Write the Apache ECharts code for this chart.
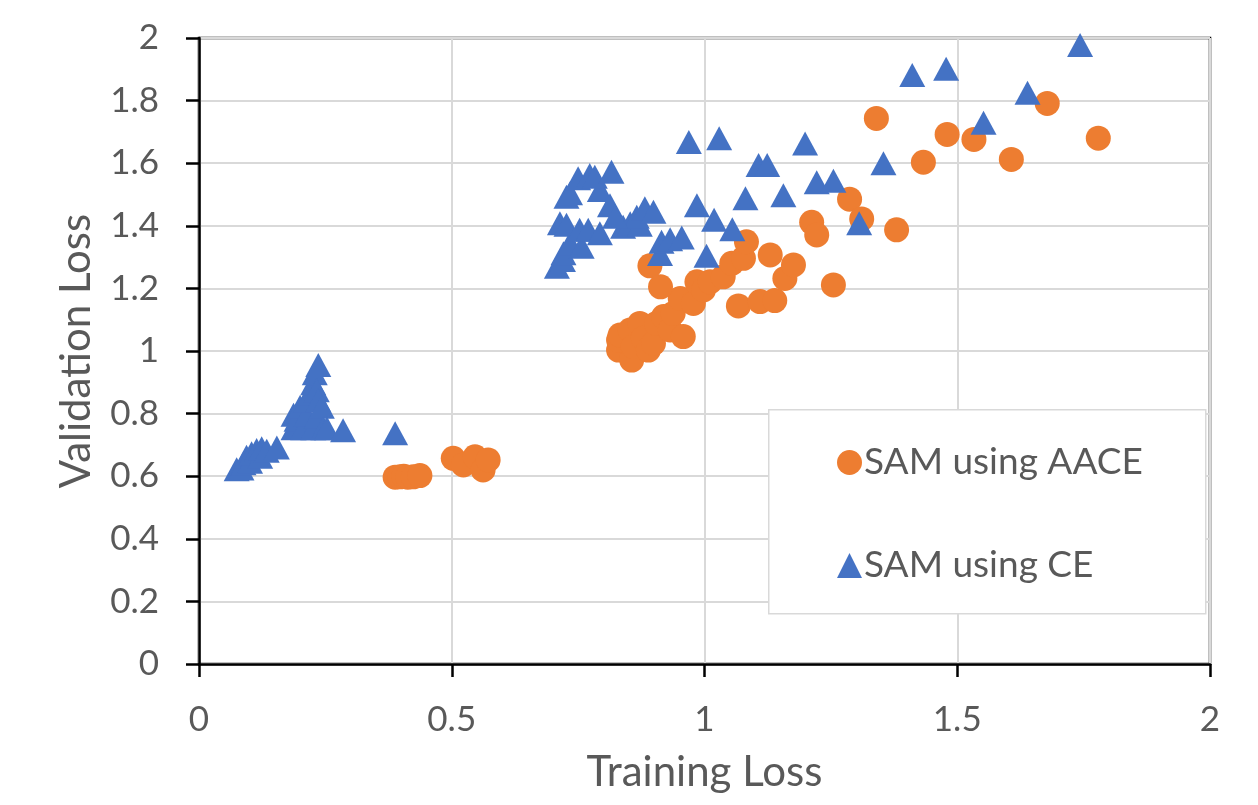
<!DOCTYPE html>
<html><head><meta charset="utf-8">
<script src="https://cdn.jsdelivr.net/npm/echarts@6/dist/echarts.min.js"></script>
<style>html,body{margin:0;padding:0;background:#fff}#c{width:1258px;height:805px}</style>
</head><body><div id="c"></div>
<script>
const seriesNames = ['SAM using AACE', 'SAM using CE'];
const xTicks = [0, 0.5, 1, 1.5, 2];
const yTicks = [0, 0.2, 0.4, 0.6, 0.8, 1, 1.2, 1.4, 1.6, 1.8, 2];

const aaceX = [0.388,0.398,0.405,0.413,0.424,0.437,0.503,0.523,0.546,0.562,0.572,
  0.830,0.830,0.833,0.853,0.856,0.859,0.872,0.879,0.889,0.899,0.905,0.919,0.932,0.938,0.952,0.958,0.978,0.985,0.998,1.011,1.037,1.054,1.077,1.083,0.892,0.913,1.067,1.110,1.139,1.130,1.159,1.176,1.212,1.222,1.255,
  1.287,1.311,1.340,1.380,1.433,1.480,1.533,1.607,1.678,1.779];
const aaceY = [0.597,0.598,0.600,0.597,0.598,0.602,0.657,0.636,0.662,0.620,0.652,
  1.003,1.035,1.051,1.067,0.971,1.014,1.088,1.041,1.003,1.024,1.088,1.110,1.067,1.120,1.168,1.046,1.152,1.221,1.195,1.221,1.237,1.280,1.296,1.349,1.272,1.205,1.144,1.158,1.161,1.307,1.232,1.275,1.411,1.371,1.211,
  1.485,1.422,1.743,1.387,1.603,1.692,1.676,1.612,1.791,1.680];

const ceX = [0.0745,0.084,0.088,0.094,0.101,0.104,0.114,0.121,0.124,0.134,0.154,
  0.187,0.187,0.193,0.200,0.206,0.213,0.213,0.220,0.226,0.226,0.229,0.233,0.233,0.236,0.236,0.243,0.246,0.253,0.285,0.388,
  0.708,0.720,0.721,0.734,0.757,0.714,0.727,0.753,0.770,0.793,0.839,0.853,0.872,0.866,0.882,0.899,0.813,0.823,0.793,0.727,0.734,0.750,0.773,0.783,0.816,
  0.912,0.915,0.932,0.955,1.004,0.985,1.019,1.055,1.081,1.156,0.969,1.029,1.107,1.124,
  1.199,1.222,1.255,1.306,1.354,1.411,1.478,1.552,1.639,1.743];
const ceY = [0.622,0.625,0.641,0.662,0.646,0.673,0.684,0.662,0.689,0.681,0.692,
  0.753,0.796,0.780,0.822,0.753,0.796,0.843,0.865,0.753,0.897,0.929,0.790,0.875,0.843,0.955,0.822,0.753,0.753,0.747,0.737,
  1.269,1.291,1.312,1.344,1.333,1.408,1.403,1.387,1.387,1.376,1.397,1.408,1.403,1.429,1.456,1.445,1.466,1.429,1.514,1.493,1.504,1.552,1.562,1.557,1.573,
  1.310,1.349,1.357,1.363,1.304,1.466,1.419,1.389,1.488,1.498,1.668,1.680,1.594,1.594,
  1.663,1.539,1.544,1.408,1.600,1.882,1.902,1.729,1.825,1.978];

const zip = (xs, ys) => xs.map((x, i) => [x, ys[i]]);
const FONT = 'Lato';
const chart = echarts.init(document.getElementById('c'));
chart.setOption({
  animation: false,
  backgroundColor: '#fff',
  textStyle: { fontFamily: FONT },
  grid: { left: 199, right: 48, top: 38, bottom: 141, show: true, borderColor: '#000', borderWidth: 2.5, backgroundColor: 'transparent' },
  xAxis: {
    type: 'value', min: xTicks[0], max: xTicks[xTicks.length - 1], interval: 0.5,
    name: 'Training Loss', nameLocation: 'middle', nameGap: 87,
    nameTextStyle: { color: '#595959', fontSize: 42, fontFamily: FONT },
    axisLine: { lineStyle: { color: '#000', width: 2.5 } },
    axisTick: { show: true, length: 13, lineStyle: { color: '#000', width: 2.5 } },
    axisLabel: { color: '#595959', fontSize: 35, margin: 38, fontFamily: FONT, formatter: v => String(v) },
    splitLine: { show: true, lineStyle: { color: '#d9d9d9', width: 2 } }
  },
  yAxis: {
    type: 'value', min: yTicks[0], max: yTicks[yTicks.length - 1], interval: 0.2,
    name: 'Validation Loss', nameLocation: 'middle', nameGap: 102, nameRotate: 90,
    nameTextStyle: { color: '#595959', fontSize: 42, fontFamily: FONT },
    axisLine: { lineStyle: { color: '#000', width: 2.5 } },
    axisTick: { show: true, length: 13, lineStyle: { color: '#000', width: 2.5 } },
    axisLabel: { color: '#595959', fontSize: 35, margin: 40, fontFamily: FONT, formatter: v => String(+v.toFixed(1)) },
    splitLine: { show: true, lineStyle: { color: '#d9d9d9', width: 2 } }
  },
  legend: {
    orient: 'vertical', left: 832, top: 439, itemGap: 66, itemWidth: 25, itemHeight: 25,
    textStyle: { color: '#595959', fontSize: 37, lineHeight: 30, fontFamily: FONT, padding: [0, 0, 0, -3] },
    data: seriesNames, z: 200
  },
  graphic: [{
    type: 'rect', left: 768, top: 409, z: 150,
    shape: { width: 437, height: 204 },
    style: { fill: '#fff', stroke: '#d9d9d9', lineWidth: 1.5 }
  }],
  series: [
    { name: seriesNames[0], type: 'scatter', symbol: 'circle', symbolSize: 25,
      itemStyle: { color: '#ED7D31', opacity: 1 }, data: zip(aaceX, aaceY) },
    { name: seriesNames[1], type: 'scatter', symbol: 'triangle', symbolSize: [26, 24],
      itemStyle: { color: '#4472C4', opacity: 1 }, data: zip(ceX, ceY) }
  ]
});
</script></body></html>
